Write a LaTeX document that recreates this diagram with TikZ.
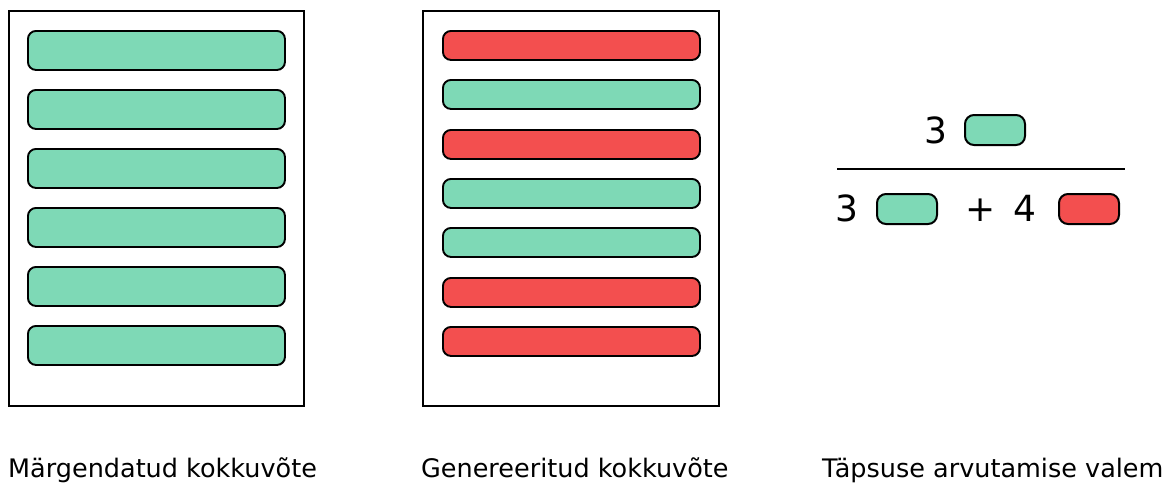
\documentclass[tikz,border=0pt]{standalone}
\usepackage{fontspec}
\setmainfont{DejaVu Sans}
\definecolor{barGreen}{HTML}{7ED9B6}
\definecolor{barRed}{HTML}{F34F4F}
\begin{document}
\begin{tikzpicture}[x=1pt,y=-1pt,
  docbox/.style={draw=black,line width=2pt,fill=white,anchor=north west,inner sep=0pt,minimum width=295pt,minimum height=395pt},
  bigbar/.style={draw=black,line width=1.9pt,rounded corners=8pt,anchor=north west,inner sep=0pt,minimum width=257pt,minimum height=39pt},
  slimbar/.style={draw=black,line width=1.9pt,rounded corners=8pt,anchor=north west,inner sep=0pt,minimum width=257pt,minimum height=29pt},
  chip/.style={draw=black,line width=2pt,rounded corners=9pt,anchor=north west,inner sep=0pt,minimum width=60pt,minimum height=30pt},
  caption/.style={anchor=base west,inner sep=0pt,font=\fontsize{25.5}{30}\selectfont},
  digit/.style={anchor=base,inner sep=0pt,font=\fontsize{36}{40}\selectfont}]
\useasboundingbox (0,0) rectangle (1170,482);
% left document
\node[docbox] (docL) at (8,10) {};
\foreach \i/\t in {1/30,2/89,3/148,4/207,5/266,6/325}
  \node[bigbar,fill=barGreen] (lbar\i) at (27,\t) {};
% middle document
\node[docbox,minimum width=296pt] (docM) at (422,10) {};
\foreach \i/\t/\c in {1/30/barRed,2/79/barGreen,3/129/barRed,4/178/barGreen,5/227/barGreen,6/277/barRed,7/326/barRed}
  \node[slimbar,fill=\c] (mbar\i) at (442,\t) {};
% formula
\node[digit] (n3top) at (936,143) {3};
\node[chip,fill=barGreen] (gtop) at (964,114) {};
\coordinate (fracL) at (837,169);
\coordinate (fracR) at (1125,169);
\draw[line width=1.5pt] (fracL) -- (fracR);
\node[digit] (n3bot) at (847,221) {3};
\node[chip,fill=barGreen] (gbot) at (876,193) {};
\node[digit] (plus) at (980.5,221) {+};
\node[digit] (n4) at (1024.5,221) {4};
\node[chip,fill=barRed] (rbot) at (1058,193) {};
% captions
\node[caption] (capL) at (8,477) {Märgendatud kokkuvõte};
\node[caption] (capM) at (421,477) {Genereeritud kokkuvõte};
\node[caption] (capR) at (822,477) {Täpsuse arvutamise valem};
\end{tikzpicture}
\end{document}
